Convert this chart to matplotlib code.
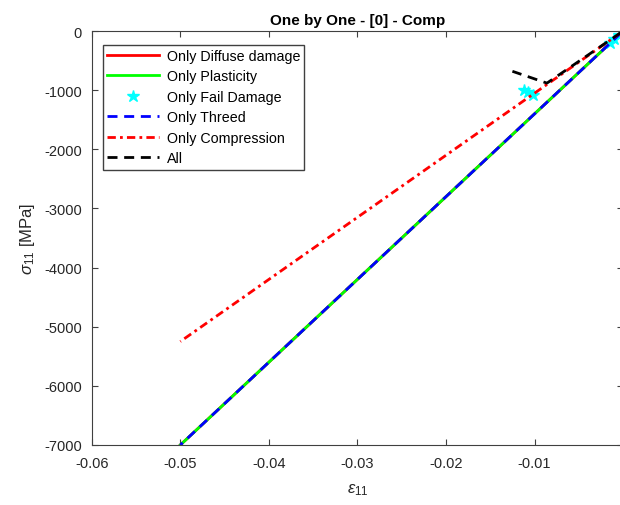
import matplotlib
matplotlib.use('Agg')
import matplotlib.pyplot as plt

plt.rcParams['font.family'] = ['Liberation Sans', 'DejaVu Sans']
plt.rcParams['axes.unicode_minus'] = False
plt.rcParams['mathtext.fontset'] = 'custom'
plt.rcParams['mathtext.rm'] = 'Liberation Sans'
plt.rcParams['mathtext.it'] = 'Liberation Sans:italic'

# data
strain_lin = [0, -0.05]
stress_lin = [0, -7000]          # diffuse damage, plasticity, threed
stress_comp = [0, -5250]         # compression only
fail_strain = [0, -0.0005, -0.001, -0.0015, -0.0112, -0.0107, -0.0102]
fail_stress = [0, -70, -140, -210, -990, -1030, -1075]
all_strain = [0, -0.0086, -0.0125]
all_stress = [0, -880, -680]

xticks = [-0.06, -0.05, -0.04, -0.03, -0.02, -0.01, 0]
xticklabels = ['-0.06', '-0.05', '-0.04', '-0.03', '-0.02', '-0.01', '0']
yticks = [0, -1000, -2000, -3000, -4000, -5000, -6000, -7000]
yticklabels = ['0', '-1000', '-2000', '-3000', '-4000', '-5000', '-6000', '-7000']

fig = plt.figure(figsize=(6.2, 5.06), dpi=100)
ax = fig.add_axes([0.148, 0.1186, 0.857, 0.818])

lw = 2
ax.plot(strain_lin, stress_lin, color='#ff0000', lw=lw, label='Only Diffuse damage')
ax.plot(strain_lin, stress_lin, color='#00ff00', lw=lw, label='Only Plasticity')
ax.plot(fail_strain, fail_stress, '*', color='#00ffff', ms=9, ls='none', label='Only Fail Damage')
ax.plot(strain_lin, stress_lin, color='#0000ff', lw=lw, dashes=(3.6, 2.4), label='Only Threed')
ax.plot(strain_lin, stress_comp, color='#ff0000', lw=lw, dashes=(3, 1.5, 1, 1.5), label='Only Compression')
ax.plot(all_strain, all_stress, color='#000000', lw=lw, dashes=(3.6, 2.4), label='All')

ax.set_xlim(-0.06, 0)
ax.set_ylim(-7000, 0)
ax.set_xticks(xticks)
ax.set_xticklabels(xticklabels)
ax.set_yticks(yticks)
ax.set_yticklabels(yticklabels)
ax.tick_params(direction='in', top=True, right=True, length=4, labelsize=10.5,
               color='#404040', labelcolor='#262626')
ax.tick_params(axis='x', pad=8)
ax.tick_params(axis='y', pad=7)
for s in ax.spines.values():
    s.set_color('#404040')

ax.set_title('One by One - [0] - Comp', fontsize=11, fontweight='bold', pad=5)
ax.set_xlabel(r'$\epsilon_{11}$', fontsize=12, color='#262626', labelpad=8)
ax.set_ylabel(r'$\sigma_{11}$ [MPa]', fontsize=12, color='#262626', labelpad=5)

leg = ax.legend(loc='upper left', bbox_to_anchor=(0.021, 0.967), borderaxespad=0,
                fontsize=10.3, handlelength=3.6, handletextpad=0.55, labelspacing=0.45,
                fancybox=False, framealpha=1, edgecolor='#404040', borderpad=0.3)
leg.get_frame().set_linewidth(1)

fig.savefig('out.png', dpi=100)
